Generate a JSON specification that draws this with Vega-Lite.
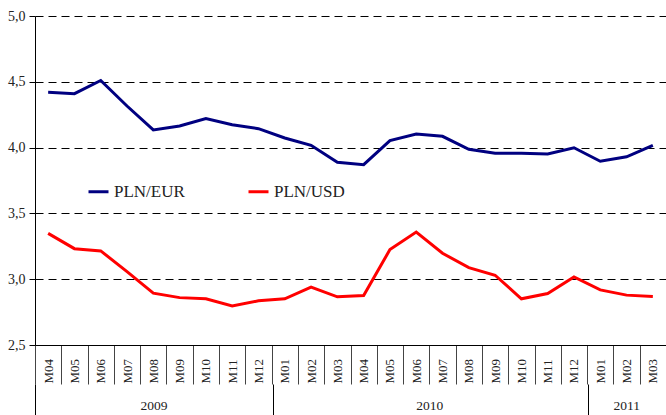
{
  "$schema": "https://vega.github.io/schema/vega-lite/v6.json",
  "padding": {"left": 7, "top": 9, "right": 0, "bottom": 0},
  "config": {
    "font": "Liberation Serif, Times New Roman, DejaVu Serif, serif",
    "view": {"stroke": null},
    "locale": {"number": {"decimal": ",", "thousands": " ", "grouping": [3], "currency": ["", " zł"]}}
  },
  "width": 631,
  "height": 329,
  "resolve": {"scale": {"x": "independent"}, "axis": {"x": "independent"}},
  "layer": [
    {
      "data": {
        "values": [
          {"d": "2009-04-15", "series": "PLN/EUR", "value": 4.42},
          {"d": "2009-05-15", "series": "PLN/EUR", "value": 4.41},
          {"d": "2009-06-15", "series": "PLN/EUR", "value": 4.51},
          {"d": "2009-07-15", "series": "PLN/EUR", "value": 4.316},
          {"d": "2009-08-15", "series": "PLN/EUR", "value": 4.134},
          {"d": "2009-09-15", "series": "PLN/EUR", "value": 4.164},
          {"d": "2009-10-15", "series": "PLN/EUR", "value": 4.22},
          {"d": "2009-11-15", "series": "PLN/EUR", "value": 4.174},
          {"d": "2009-12-15", "series": "PLN/EUR", "value": 4.144},
          {"d": "2010-01-15", "series": "PLN/EUR", "value": 4.073},
          {"d": "2010-02-15", "series": "PLN/EUR", "value": 4.017},
          {"d": "2010-03-15", "series": "PLN/EUR", "value": 3.888},
          {"d": "2010-04-15", "series": "PLN/EUR", "value": 3.87},
          {"d": "2010-05-15", "series": "PLN/EUR", "value": 4.053},
          {"d": "2010-06-15", "series": "PLN/EUR", "value": 4.103},
          {"d": "2010-07-15", "series": "PLN/EUR", "value": 4.086},
          {"d": "2010-08-15", "series": "PLN/EUR", "value": 3.987},
          {"d": "2010-09-15", "series": "PLN/EUR", "value": 3.957},
          {"d": "2010-10-15", "series": "PLN/EUR", "value": 3.957},
          {"d": "2010-11-15", "series": "PLN/EUR", "value": 3.951},
          {"d": "2010-12-15", "series": "PLN/EUR", "value": 3.999},
          {"d": "2011-01-15", "series": "PLN/EUR", "value": 3.896},
          {"d": "2011-02-15", "series": "PLN/EUR", "value": 3.93},
          {"d": "2011-03-15", "series": "PLN/EUR", "value": 4.017},
          {"d": "2009-04-15", "series": "PLN/USD", "value": 3.348},
          {"d": "2009-05-15", "series": "PLN/USD", "value": 3.232},
          {"d": "2009-06-15", "series": "PLN/USD", "value": 3.215},
          {"d": "2009-07-15", "series": "PLN/USD", "value": 3.058},
          {"d": "2009-08-15", "series": "PLN/USD", "value": 2.894},
          {"d": "2009-09-15", "series": "PLN/USD", "value": 2.86},
          {"d": "2009-10-15", "series": "PLN/USD", "value": 2.851},
          {"d": "2009-11-15", "series": "PLN/USD", "value": 2.797},
          {"d": "2009-12-15", "series": "PLN/USD", "value": 2.836},
          {"d": "2010-01-15", "series": "PLN/USD", "value": 2.851},
          {"d": "2010-02-15", "series": "PLN/USD", "value": 2.94},
          {"d": "2010-03-15", "series": "PLN/USD", "value": 2.866},
          {"d": "2010-04-15", "series": "PLN/USD", "value": 2.876},
          {"d": "2010-05-15", "series": "PLN/USD", "value": 3.225},
          {"d": "2010-06-15", "series": "PLN/USD", "value": 3.358},
          {"d": "2010-07-15", "series": "PLN/USD", "value": 3.197},
          {"d": "2010-08-15", "series": "PLN/USD", "value": 3.088},
          {"d": "2010-09-15", "series": "PLN/USD", "value": 3.03},
          {"d": "2010-10-15", "series": "PLN/USD", "value": 2.851},
          {"d": "2010-11-15", "series": "PLN/USD", "value": 2.891},
          {"d": "2010-12-15", "series": "PLN/USD", "value": 3.017},
          {"d": "2011-01-15", "series": "PLN/USD", "value": 2.919},
          {"d": "2011-02-15", "series": "PLN/USD", "value": 2.879},
          {"d": "2011-03-15", "series": "PLN/USD", "value": 2.868}
        ]
      },
      "mark": {"type": "line", "strokeWidth": 3},
      "encoding": {
        "x": {
          "field": "d",
          "timeUnit": "yearmonth",
          "type": "ordinal",
          "scale": {"paddingInner": 0, "paddingOuter": 0},
          "axis": {
            "title": null,
            "orient": "bottom",
            "format": "M%m",
            "tickBand": "extent",
            "tickSize": 39,
            "tickColor": "#444",
            "domainColor": "#000",
            "labelAngle": -90,
            "labelAlign": "left",
            "labelBaseline": "middle",
            "labelPadding": -1,
            "labelFont": "Liberation Serif, Times New Roman, serif",
            "labelFontSize": 13,
            "labelColor": "#222"
          }
        },
        "y": {
          "field": "value",
          "type": "quantitative",
          "scale": {"domain": [2.5, 5], "nice": false, "zero": false},
          "axis": {
            "title": null,
            "values": [2.5, 3, 3.5, 4, 4.5, 5],
            "format": ".1f",
            "grid": true,
            "gridColor": "#000",
            "gridDash": [8, 5],
            "gridOpacity": 1,
            "tickSize": 6,
            "tickColor": "#000",
            "domainColor": "#000",
            "labelPadding": 4,
            "labelFont": "Liberation Serif, Times New Roman, serif",
            "labelFontSize": 14,
            "labelColor": "#222"
          }
        },
        "color": {
          "field": "series",
          "type": "nominal",
          "scale": {"domain": ["PLN/EUR", "PLN/USD"], "range": ["#000080", "#FF0000"]},
          "legend": {
            "title": null,
            "orient": "none",
            "legendX": 52,
            "legendY": 164,
            "direction": "horizontal",
            "symbolSize": 400,
            "symbolStrokeWidth": 3,
            "columnPadding": 57,
            "labelOffset": 4,
            "labelFont": "Liberation Serif, Times New Roman, serif",
            "labelFontSize": 17,
            "labelColor": "#222"
          }
        }
      }
    },
    {
      "data": {"values": [{"d": "2009-04-01"}, {"d": "2011-04-01"}]},
      "mark": {"type": "point", "opacity": 0},
      "encoding": {
        "x": {
          "field": "d",
          "type": "temporal",
          "scale": {"domain": [{"year": 2009, "month": 4, "date": 1}, {"year": 2011, "month": 4, "date": 1}], "nice": false},
          "axis": {
            "title": null,
            "orient": "bottom",
            "offset": 39,
            "values": [{"year": 2009, "month": 4, "date": 1}, {"year": 2010, "month": 1, "date": 1}, {"year": 2011, "month": 1, "date": 1}],
            "tickSize": 31,
            "tickColor": "#000",
            "domain": false,
            "labels": false,
            "grid": false
          }
        }
      }
    },
    {
      "data": {"values": [{"d": "2009-04-01"}, {"d": "2011-04-01"}]},
      "mark": {"type": "point", "opacity": 0},
      "encoding": {
        "x": {
          "field": "d",
          "type": "temporal",
          "scale": {"domain": [{"year": 2009, "month": 4, "date": 1}, {"year": 2011, "month": 4, "date": 1}], "nice": false},
          "axis": {
            "title": null,
            "orient": "bottom",
            "offset": 39,
            "values": [{"year": 2009, "month": 8, "date": 16}, {"year": 2010, "month": 7, "date": 1}, {"year": 2011, "month": 2, "date": 14}],
            "format": "%Y",
            "ticks": false,
            "domain": false,
            "grid": false,
            "labelPadding": 14,
            "labelFont": "Liberation Serif, Times New Roman, serif",
            "labelFontSize": 13.5,
            "labelColor": "#222",
            "labelFlush": false
          }
        }
      }
    }
  ]
}
